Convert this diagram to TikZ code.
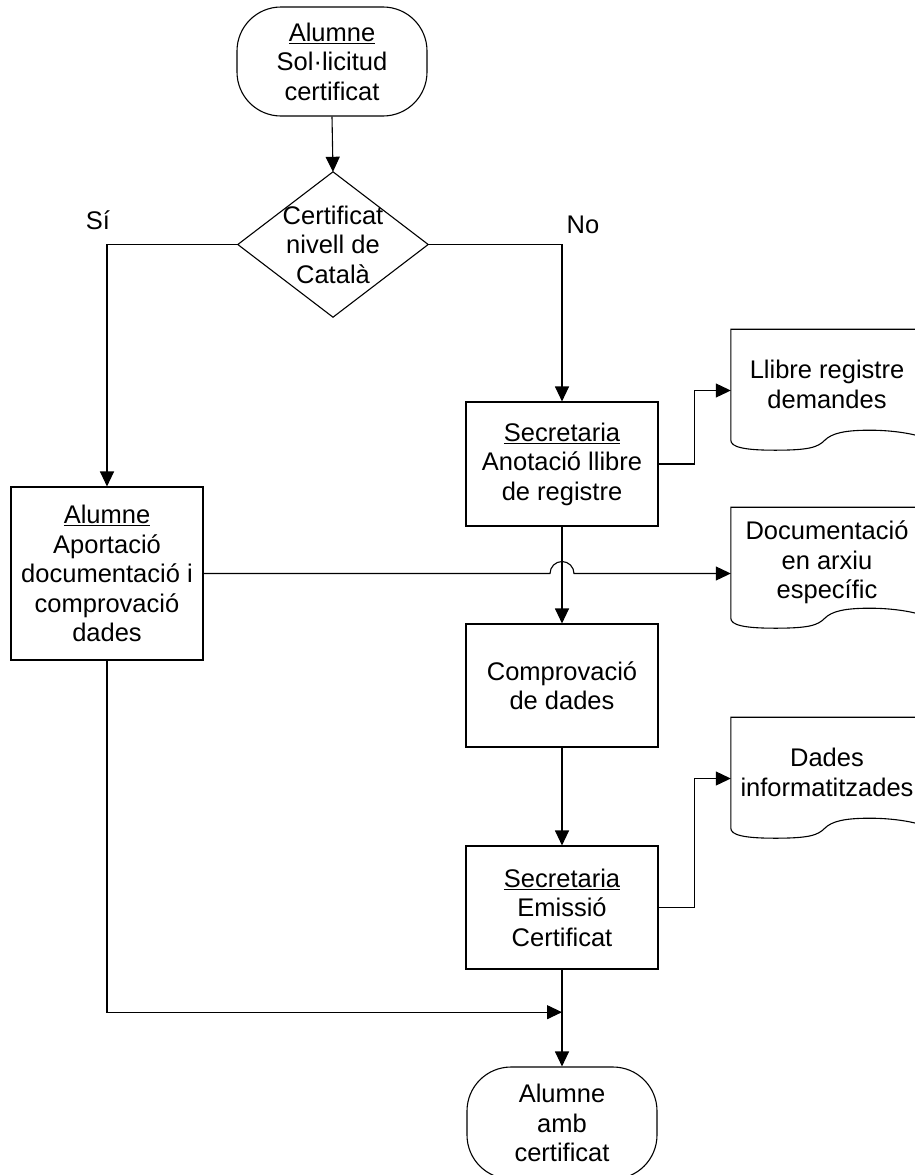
\documentclass[tikz,border=0pt]{standalone}
\usepackage{fontspec}
\setmainfont{Liberation Sans}
\usetikzlibrary{arrows.meta,calc}
\begin{document}
\begin{tikzpicture}[x=1pt,y=-1pt,
  every node/.style={font=\fontsize{25.5}{29.5}\selectfont, align=center, inner sep=0pt},
  line/.style={line width=1.1pt, draw=black},
  proc/.style={line, draw, minimum width=192pt},
  term/.style={line, draw, rounded corners=44pt, minimum width=190pt},
  docnode/.style={minimum width=192pt, minimum height=111pt},
  decnode/.style={minimum width=190pt, minimum height=145pt},
  conn/.style={line, -{Triangle[length=15pt,width=14pt]}}
]
\useasboundingbox (0,0) rectangle (915,1175);
\clip (0,0) rectangle (915,1175);
\fill[white] (0,0) rectangle (915,1175);

% nodes
\node[term, minimum height=109pt] (t1) at (332,61.5) {\underline{Alumne}\\Sol·licitud\\certificat};
\node[decnode] (dec) at (333,244.5) {Certificat\\nivell de\\Català};
\draw[line] (dec.north) -- (dec.east) -- (dec.south) -- (dec.west) -- cycle;

\node (si) at (98,220) {Sí};
\node (no) at (583,225) {No};

\node[proc, minimum height=124pt] (sec1) at (562,464) {\underline{Secretaria}\\Anotació llibre\\de registre};
\node[proc, minimum height=173pt] (alu) at (107,573.5) {\underline{Alumne}\\Aportació\\documentació i\\comprovació\\dades};
\node[proc, minimum height=123pt] (comp) at (562,685.5) {Comprovació\\de dades};
\node[proc, minimum height=123pt] (sec2) at (562,907.5) {\underline{Secretaria}\\Emissió\\Certificat};
\node[term, minimum height=112pt] (t2) at (562,1123) {Alumne\\amb\\certificat};

\node[docnode] (doc1) at (827,384.5) {Llibre registre\\demandes};
\node[docnode] (doc2) at (827,562.5) {Documentació\\en arxiu\\específic};
\node[docnode] (doc3) at (827,772.5) {Dades\\informatitzades};

\foreach \d in {doc1,doc2,doc3}{
  \begin{scope}[shift={(\d.south west)}]
    \draw[line] (0,0) -- (0,-111) -- (192,-111) -- (192,-3)
      .. controls (180,-7) and (160,-10) .. (139,-10)
      .. controls (114,-10) and (101,-7) .. (94,0)
      .. controls (87,7) and (79,10) .. (44,10)
      .. controls (14,10) and (0,7) .. (0,0);
  \end{scope}
}

% connectors
\draw[conn] (t1.south) -- (dec.north);
\draw[conn] (dec.west) -| (alu.north);
\draw[conn] (dec.east) -| (sec1.north);
\draw[conn] (sec1.east) -- ++(36,0) |- ($(doc1.west)+(0,6)$);
\draw[conn] (sec1.south) -- (comp.north);
\coordinate (hop) at (alu.east -| sec1.south);
\draw[conn] (alu.east) -- ($(hop)+(-12,0)$)
  .. controls +(0,-6.6) and +(-6.6,0) .. ($(hop)+(0,-12)$)
  .. controls +(6.6,0) and +(0,-6.6) .. ($(hop)+(12,0)$)
  -- (doc2.west |- alu.east);
\draw[conn] (comp.south) -- (sec2.north);
\draw[conn] (sec2.east) -- ++(36,0) |- ($(doc3.west)+(0,6)$);
\draw[conn] (sec2.south) -- (t2.north);
\coordinate (merge) at ($(sec2.south)!0.44!(t2.north)$);
\draw[conn] (alu.south) |- (merge);
\end{tikzpicture}
\end{document}
